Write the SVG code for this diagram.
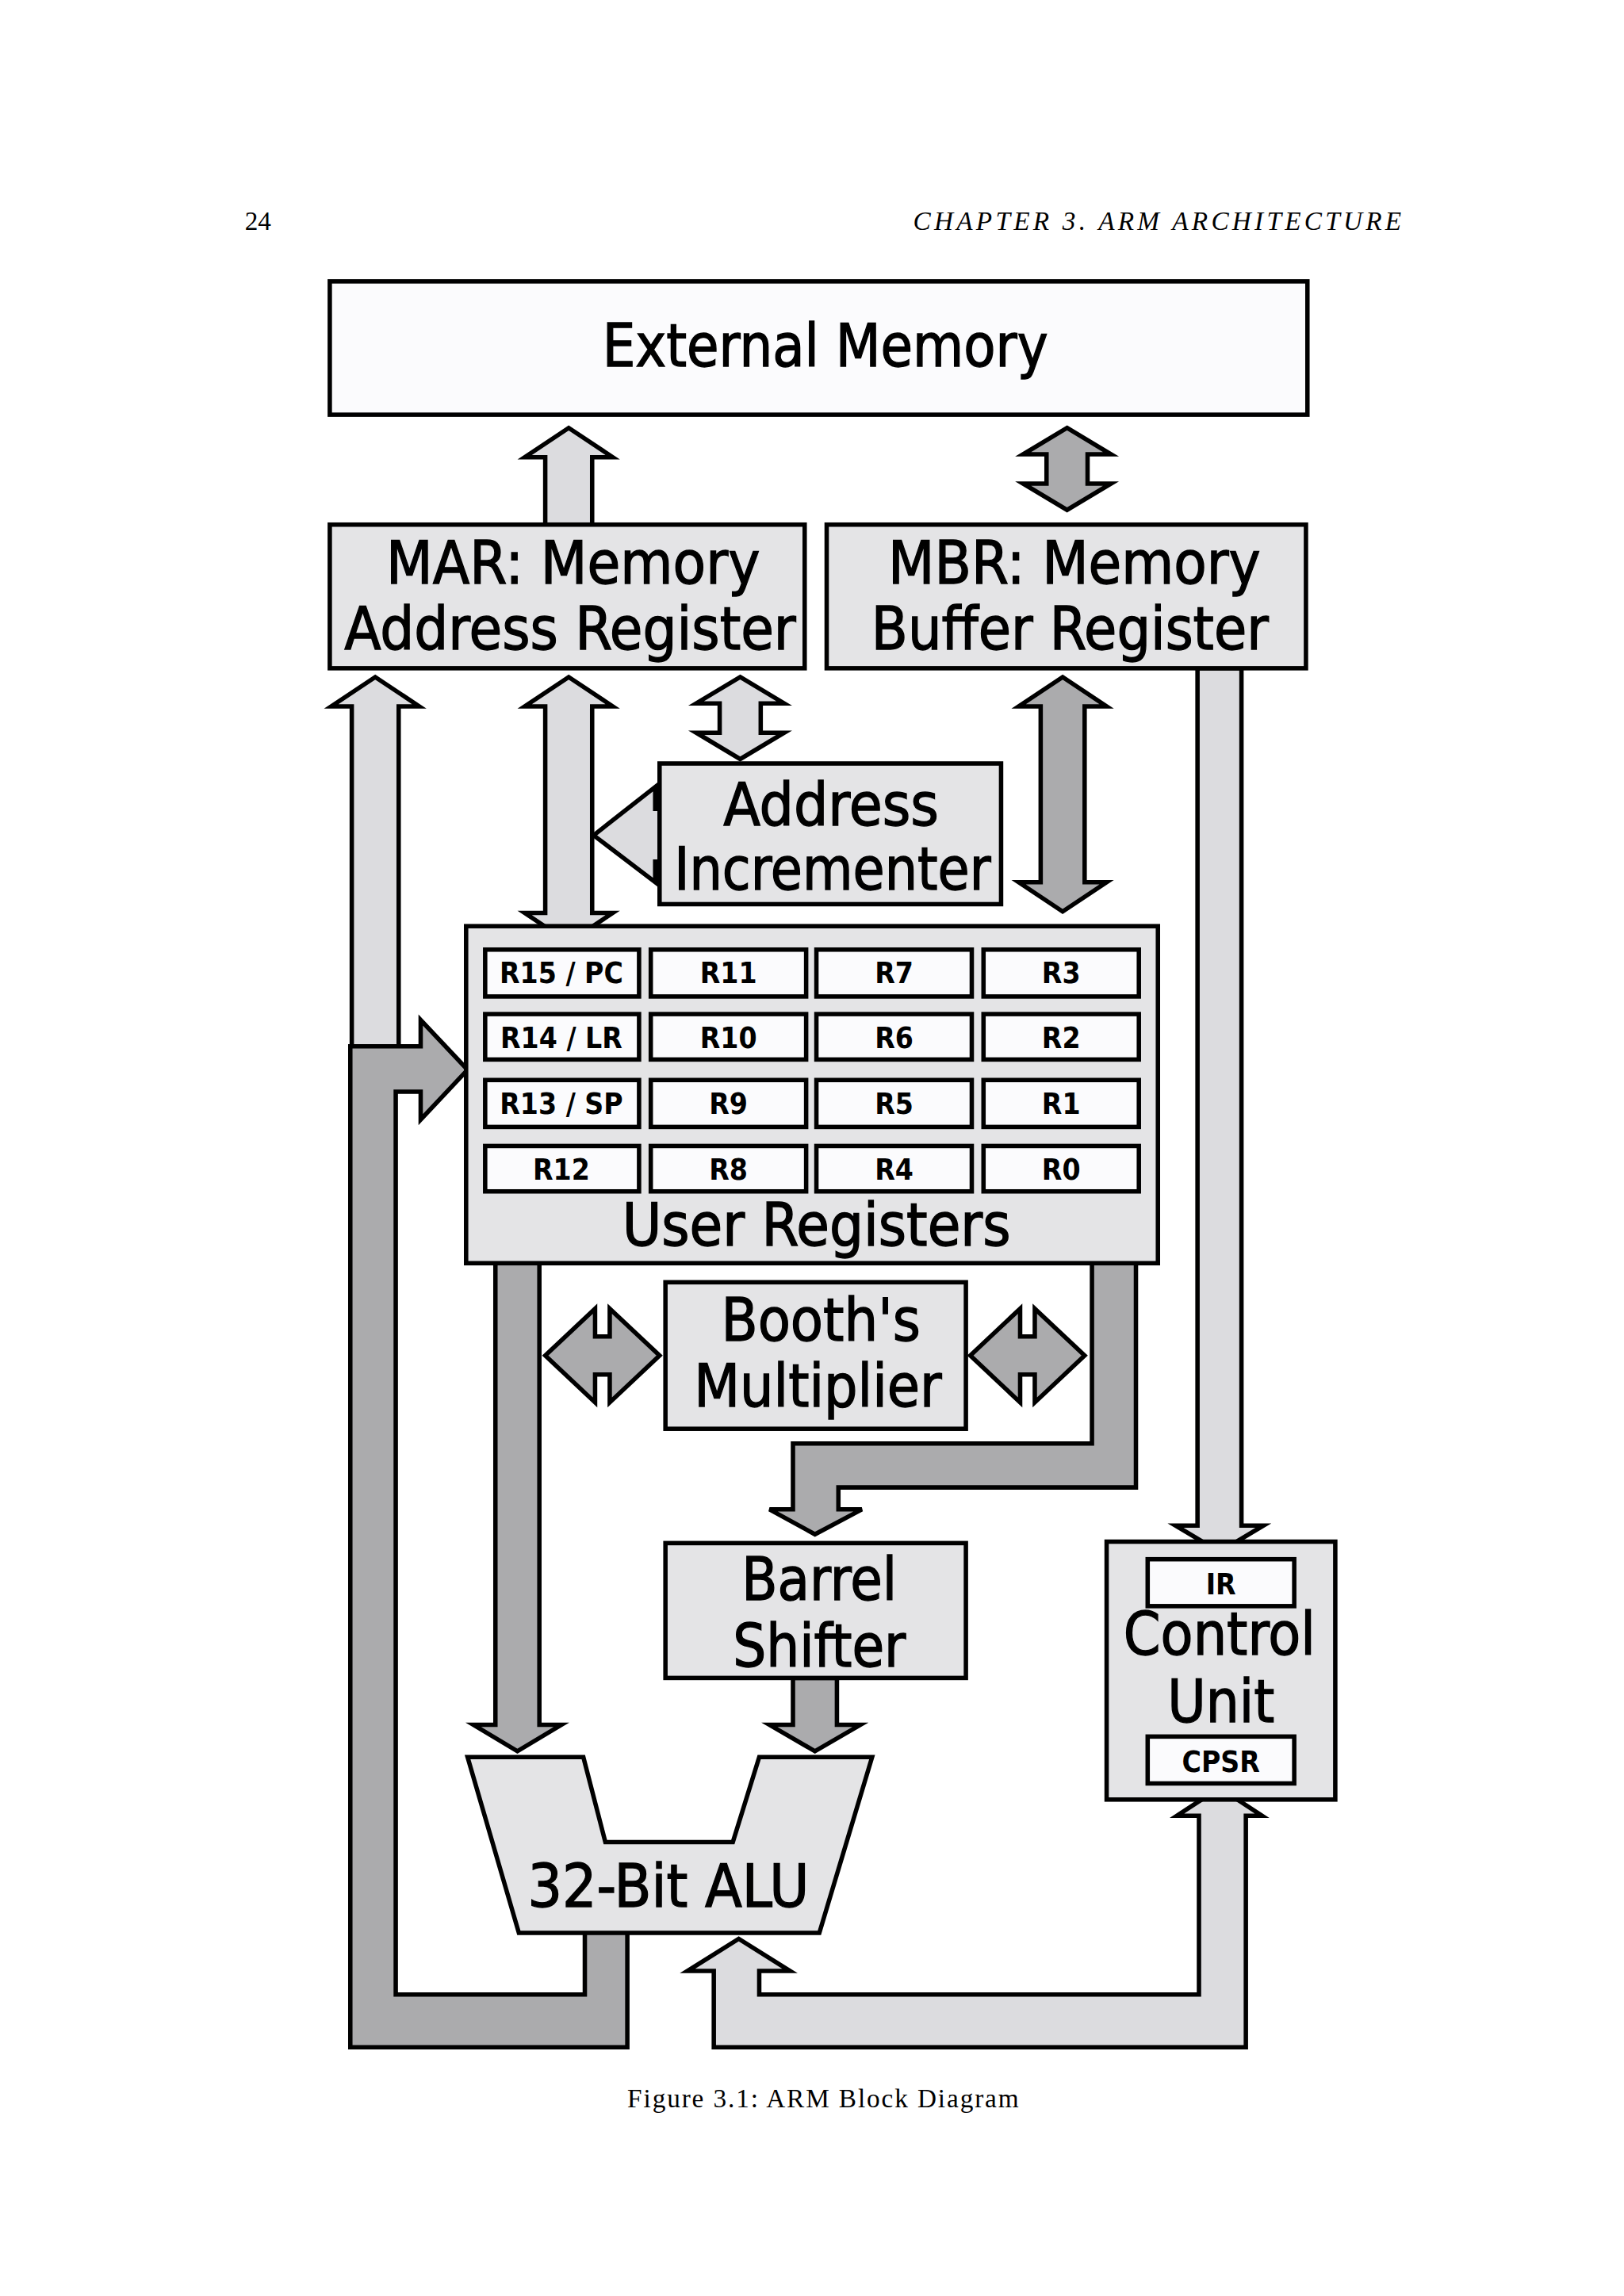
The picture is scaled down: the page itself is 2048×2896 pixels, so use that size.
<svg xmlns="http://www.w3.org/2000/svg" width="2048" height="2896" viewBox="0 0 2048 2896">
<style>
.box{fill:#e4e4e6;stroke:#000;stroke-width:3}
.wb{fill:#fbfbfd;stroke:#000;stroke-width:3}
.reg{fill:#fbfbfd;stroke:#000;stroke-width:3}
.lt{fill:#dcdcdf;stroke:#000;stroke-width:3;stroke-linejoin:miter}
.dk{fill:#ababad;stroke:#000;stroke-width:3;stroke-linejoin:miter}
.lbl{font-family:"Liberation Sans Narrow","DejaVu Sans Condensed","Liberation Sans",sans-serif;font-size:40px;text-anchor:middle;fill:#000;stroke:#000;stroke-width:0.7}
.rl{font-family:"Liberation Sans Narrow","DejaVu Sans Condensed","Liberation Sans",sans-serif;font-size:20px;font-weight:bold;text-anchor:middle;fill:#000}
.pg{font-family:"Liberation Serif",serif;font-size:18px;fill:#000}
</style>
<rect width="2048" height="2896" fill="#fff"/>
<g transform="scale(1.8484)">
<text class="pg" x="167" y="157">24</text>
<text class="pg" x="623" y="157" font-style="italic" textLength="333" lengthAdjust="spacing">CHAPTER 3.   ARM ARCHITECTURE</text>
<g id="connectors">
<polygon class="lt" points="388,292 418,312 404,312 404,358 372,358 372,312 358,312"/>
<polygon class="dk" points="728,292 758,310 742,310 742,330 758,330 728,348 698,330 714,330 714,310 698,310"/>
<polygon class="lt" points="256,462 286,482 272,482 272,715 240,715 240,482 226,482"/>
<polygon class="lt" points="388,462 418,482 404,482 404,623 418,623 388,643 358,623 372,623 372,482 358,482"/>
<polygon class="lt" points="505,462 535,480 519,480 519,500 535,500 505,518 475,500 491,500 491,480 475,480"/>
<polygon class="lt" points="405,570 447,537 447,552 452,552 452,588 447,588 447,602"/>
<polygon class="dk" points="725,462 755,482 740,482 740,602 755,602 725,622 695,602 710,602 710,482 695,482"/>
<polygon class="lt" points="817,456 847,456 847,1041 862,1041 832,1059 802,1041 817,1041"/>
<polygon class="dk" points="399,1318 428,1318 428,1397 239,1397 239,714 287,714 287,696 319,730 287,764 287,745 270,745 270,1361 399,1361"/>
<polygon class="lt" points="487,1345 469,1345 504,1323 539,1345 518,1345 518,1361 818,1361 818,1239 803,1239 832,1220 861,1239 850,1239 850,1397 487,1397"/>
<polygon class="dk" points="338,862 368,862 368,1177 383,1177 353,1195 323,1177 338,1177"/>
<polygon class="dk" points="745,862 775,862 775,1015 572,1015 572,1030 588,1030 556,1047 525,1030 541,1030 541,985 745,985"/>
<polygon class="dk" points="541,1145 571,1145 571,1177 587,1177 556,1195 525,1177 541,1177"/>
<polygon class="dk" points="372,925 406,893 406,912 416,912 416,893 450,925 416,957 416,938 406,938 406,957"/>
<polygon class="dk" points="662,925 696,893 696,912 706,912 706,893 740,925 706,957 706,938 696,938 696,957"/>
</g>
<g id="external-memory">
<rect class="wb" x="225" y="192" width="667" height="91"/>
<text class="lbl" x="563" y="250" font-size="42" textLength="304" lengthAdjust="spacingAndGlyphs">External Memory</text>
</g>
<g id="mar">
<rect class="box" x="225" y="358" width="324" height="98"/>
<text class="lbl" x="391" y="398" textLength="255" lengthAdjust="spacingAndGlyphs">MAR: Memory</text>
<text class="lbl" x="389" y="443" textLength="308" lengthAdjust="spacingAndGlyphs">Address Register</text>
</g>
<g id="mbr">
<rect class="box" x="564" y="358" width="327" height="98"/>
<text class="lbl" x="733" y="398" textLength="254" lengthAdjust="spacingAndGlyphs">MBR: Memory</text>
<text class="lbl" x="730" y="443" textLength="271" lengthAdjust="spacingAndGlyphs">Buffer Register</text>
</g>
<g id="address-incrementer">
<rect class="box" x="450" y="521" width="233" height="96"/>
<text class="lbl" x="567" y="563" textLength="147" lengthAdjust="spacingAndGlyphs">Address</text>
<text class="lbl" x="568" y="607" textLength="216" lengthAdjust="spacingAndGlyphs">Incrementer</text>
</g>
<g id="user-registers">
<rect class="box" x="318" y="632" width="472" height="230"/>
<rect class="reg" x="331" y="648" width="105" height="32"/><text class="rl" x="383" y="671">R15 / PC</text>
<rect class="reg" x="444" y="648" width="106" height="32"/><text class="rl" x="497" y="671">R11</text>
<rect class="reg" x="557" y="648" width="106" height="32"/><text class="rl" x="610" y="671">R7</text>
<rect class="reg" x="671" y="648" width="106" height="32"/><text class="rl" x="724" y="671">R3</text>
<rect class="reg" x="331" y="692" width="105" height="31"/><text class="rl" x="383" y="715">R14 / LR</text>
<rect class="reg" x="444" y="692" width="106" height="31"/><text class="rl" x="497" y="715">R10</text>
<rect class="reg" x="557" y="692" width="106" height="31"/><text class="rl" x="610" y="715">R6</text>
<rect class="reg" x="671" y="692" width="106" height="31"/><text class="rl" x="724" y="715">R2</text>
<rect class="reg" x="331" y="737" width="105" height="32"/><text class="rl" x="383" y="760">R13 / SP</text>
<rect class="reg" x="444" y="737" width="106" height="32"/><text class="rl" x="497" y="760">R9</text>
<rect class="reg" x="557" y="737" width="106" height="32"/><text class="rl" x="610" y="760">R5</text>
<rect class="reg" x="671" y="737" width="106" height="32"/><text class="rl" x="724" y="760">R1</text>
<rect class="reg" x="331" y="782" width="105" height="31"/><text class="rl" x="383" y="805">R12</text>
<rect class="reg" x="444" y="782" width="106" height="31"/><text class="rl" x="497" y="805">R8</text>
<rect class="reg" x="557" y="782" width="106" height="31"/><text class="rl" x="610" y="805">R4</text>
<rect class="reg" x="671" y="782" width="106" height="31"/><text class="rl" x="724" y="805">R0</text>
<text class="lbl" x="557" y="850" textLength="265" lengthAdjust="spacingAndGlyphs">User Registers</text>
</g>
<g id="booths-multiplier">
<rect class="box" x="454" y="875" width="205" height="100"/>
<text class="lbl" x="560" y="915" textLength="136" lengthAdjust="spacingAndGlyphs">Booth's</text>
<text class="lbl" x="558" y="960" textLength="169" lengthAdjust="spacingAndGlyphs">Multiplier</text>
</g>
<g id="barrel-shifter">
<rect class="box" x="454" y="1053" width="205" height="92"/>
<text class="lbl" x="559" y="1092" textLength="106" lengthAdjust="spacingAndGlyphs">Barrel</text>
<text class="lbl" x="559" y="1137" textLength="118" lengthAdjust="spacingAndGlyphs">Shifter</text>
</g>
<g id="alu">
<polygon class="box" points="319,1199 398,1199 413,1257 500,1257 518,1199 595,1199 559,1319 354,1319"/>
<text class="lbl" x="456" y="1301" textLength="192" lengthAdjust="spacingAndGlyphs">32-Bit ALU</text>
</g>
<g id="control-unit">
<rect class="box" x="755" y="1052" width="156" height="176"/>
<rect class="reg" x="783" y="1064" width="100" height="32"/><text class="rl" x="833" y="1088">IR</text>
<text class="lbl" x="832" y="1129" textLength="131" lengthAdjust="spacingAndGlyphs">Control</text>
<text class="lbl" x="833" y="1175" textLength="73" lengthAdjust="spacingAndGlyphs">Unit</text>
<rect class="reg" x="783" y="1185" width="100" height="32"/><text class="rl" x="833" y="1209">CPSR</text>
</g>
<text class="pg" x="428" y="1438" textLength="267" lengthAdjust="spacing">Figure 3.1:  ARM Block Diagram</text>
</g>
</svg>
